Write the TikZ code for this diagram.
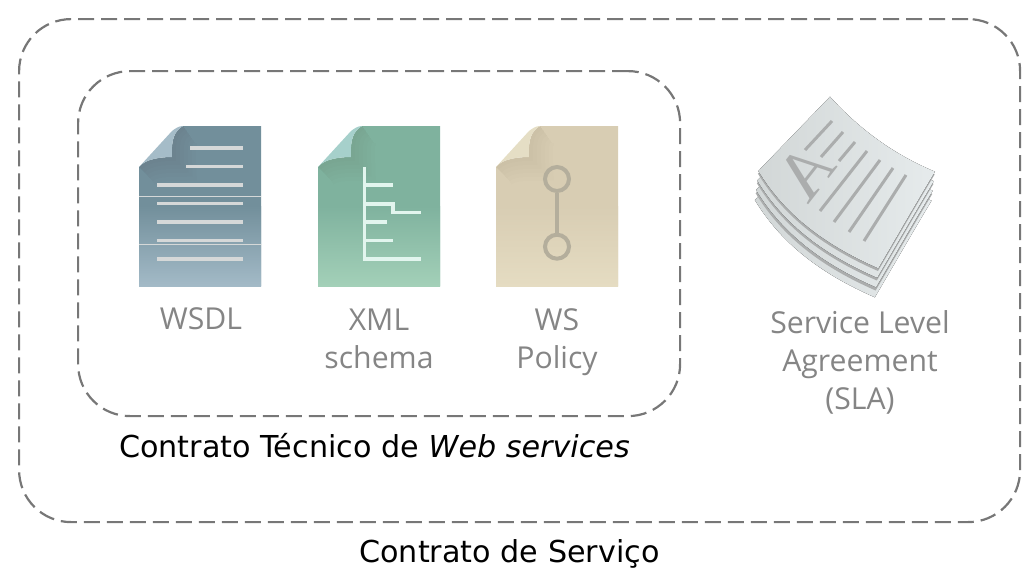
\documentclass[tikz,border=0pt]{standalone}
\usepackage{fontspec}
\setmainfont{DejaVu Sans}
\newfontfamily\labelfont{Open Sans}
\newfontfamily\letterfont{Liberation Serif}
\usepackage{xcolor}
\usetikzlibrary{positioning}
\definecolor{dashgray}{HTML}{777777}
\definecolor{labelgray}{HTML}{858585}
\definecolor{sheetline}{HTML}{ABADAD}
\definecolor{sheetlight}{HTML}{E6EBEC}
\definecolor{sheetdark}{HTML}{D2D7D7}
\definecolor{wsdltop}{HTML}{728F9B}
\definecolor{wsdlbot}{HTML}{A3BAC7}
\definecolor{wsdlfold}{HTML}{A5BCC8}
\definecolor{wsdlline}{HTML}{D5D8D8}
\definecolor{xmltop}{HTML}{7FB29E}
\definecolor{xmlbot}{HTML}{A3D0B8}
\definecolor{xmlfold}{HTML}{A6D0CB}
\definecolor{xmlline}{HTML}{E2F5EE}
\definecolor{poltop}{HTML}{D8CDB3}
\definecolor{polbot}{HTML}{E5DCC2}
\definecolor{polfold}{HTML}{E5DEC5}
\definecolor{polline}{HTML}{B4AE9C}
\newcommand{\pagepath}{(0,41) .. controls (7,32) and (25,31) .. (33,31) .. controls (32,12) and (36,5) .. (44,0) -- (122,0) -- (122,160) -- (0,160) -- cycle}
\newcommand{\sheetpath}{(758.3,171) .. controls (785,215) and (825,245) .. (878.3,268.3) .. controls (895,240) and (915,205) .. (935,171.7) .. controls (895,155) and (860,130) .. (830,96.7) -- cycle}
\tikzset{
 box/.style={draw=dashgray,line width=2.2pt,dash pattern=on 16pt off 7pt,rounded corners=52pt,anchor=north west,inner sep=0pt},
 caption/.style={text=black,font=\fontsize{30.2}{34}\selectfont},
 doclabel/.style={text=labelgray,align=center,font=\labelfont\fontsize{30.2}{38}\selectfont},
 pics/docpage/.style n args={3}{code={
  \fill[#1] \pagepath;
  \fill[top color=#1,bottom color=#2] (0,80) rectangle (122,160);
  \begin{scope}
  \clip \pagepath;
  \foreach \w in {48,40,32,24,16,8}
   \draw[line width=\w pt,draw=black,opacity=.008] (0,41) .. controls (7,32) and (25,31) .. (33,31) .. controls (32,12) and (36,5) .. (44,0);
  \end{scope}
  \fill[#3] (0,41) -- (33,5) .. controls (37,2) and (40,0) .. (44,0) .. controls (36,5) and (32,12) .. (33,31) .. controls (25,31) and (7,32) .. (0,41) -- cycle;
 }},
 wsdlbar/.style={draw=wsdlline,line width=3.5pt},
 xmlbar/.style={draw=xmlline,line width=3.5pt},
 polbar/.style={draw=polline,line width=4pt},
 sheetbar/.style={draw=sheetline,line width=3pt},
 sheetfill/.style={left color=sheetdark,middle color=sheetdark,right color=sheetlight}
}
\begin{document}
\begin{tikzpicture}[x=1pt,y=-1pt]
\useasboundingbox (0,0) rectangle (1034,587);
% boxes
\node[box,minimum width=1001pt,minimum height=503pt] (servico) at (18,18) {};
\node[box,minimum width=602pt,minimum height=345pt] (tecnico) at (77,70) {};
\node[caption] (servicotxt) at (509.5,554) {Contrato de Serviço};
\node[caption] (tecnicotxt) at (374.5,446) {Contrato Técnico de \textit{Web services}};
% WSDL
\pic at (139,126) {docpage={wsdltop}{wsdlbot}{wsdlfold}};
\draw[wsdlline,line width=.6pt] (139,196.5) -- (261,196.5) (139,244.5) -- (261,244.5);
\draw[wsdlbar] (190,148) -- (243,148) (186,166.5) -- (243,166.5);
\foreach \y in {185,203.5,222,240.5,259}
 \draw[wsdlbar] (157,\y) -- (243,\y);
\node[doclabel] (wsdl) at (201,319) {WSDL};
% XML schema
\pic at (318,126) {docpage={xmltop}{xmlbot}{xmlfold}};
\draw[xmlbar] (364.5,167) -- (364.5,259) -- (421,259);
\draw[xmlbar] (364.5,185) -- (393,185) (364.5,222) -- (387,222) (364.5,240.5) -- (393,240.5);
\draw[xmlbar] (364.5,204) -- (393,204) -- (393,212.5) -- (421,212.5);
\node[doclabel] (xml) at (379,339) {XML\\schema};
% WS Policy
\pic at (496,126) {docpage={poltop}{polbot}{polfold}};
\node[draw=polline,line width=4pt,circle,minimum size=24pt,inner sep=0pt] (ringa) at (557,179) {};
\node[draw=polline,line width=4pt,circle,minimum size=24pt,inner sep=0pt] (ringb) at (557,246.7) {};
\draw[polbar] (ringa) -- (ringb);
\node[doclabel] (policy) at (557,342) {WS\\Policy};
% SLA
\foreach \d in {29,19,9.5} {
 \fill[sheetfill,xshift=-.12*\d pt,yshift=-\d pt] \sheetpath;
 \fill[sheetline,xshift=-.12*\d pt+.8pt,yshift=-\d pt+6.8pt] \sheetpath;
}
\fill[sheetfill] \sheetpath;
\draw[sheetbar] (805,150) -- (832,121) (821,157) -- (843,132) (839,161) -- (855,142);
\draw[sheetbar] (820,211) -- (867,151) (834,222) -- (880,160) (849,232) -- (893,168) (864,241) -- (906,175);
\node[text=sheetline,font=\letterfont\fontsize{68}{68}\selectfont,rotate=52,xscale=-1,transform shape,inner sep=0pt] (letter) at (806,172) {A};
\node[doclabel] (sla) at (860,362) {Service Level\\Agreement\\(SLA)};
\end{tikzpicture}
\end{document}
